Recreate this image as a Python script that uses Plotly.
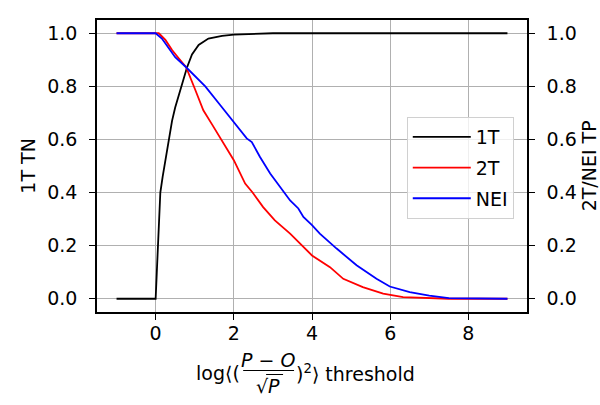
import plotly.graph_objects as go

# ---- data ----
t1_x = [-1, 0, 0.03, 0.06, 0.09, 0.12, 0.18, 0.25, 0.33, 0.42, 0.5, 0.6, 0.7, 0.8, 0.93, 1.1, 1.35, 1.7, 2.0, 2.5, 3.0, 9.0]
t1_y = [0, 0, 0.10, 0.20, 0.30, 0.40, 0.46, 0.52, 0.60, 0.67, 0.72, 0.77, 0.82, 0.87, 0.92, 0.956, 0.98, 0.99, 0.995, 0.998, 1.0, 1.0]

t2_x = [-1, 0.08, 0.25, 0.42, 0.59, 0.78, 1.0, 1.22, 1.45, 1.67, 2.0, 2.29, 2.48, 2.75, 3.05, 3.44, 3.78, 4.0, 4.46, 4.8, 5.3, 5.82, 6.33, 7.0, 7.5, 9.0]
t2_y = [1, 1, 0.975, 0.937, 0.906, 0.872, 0.792, 0.71, 0.655, 0.60, 0.522, 0.434, 0.40, 0.345, 0.295, 0.245, 0.195, 0.163, 0.119, 0.075, 0.044, 0.019, 0.006, 0.002, 0, 0]

nei_x = [-1, 0, 0.16, 0.33, 0.5, 0.78, 1.0, 1.27, 1.65, 2.0, 2.33, 2.46, 2.67, 2.93, 3.28, 3.44, 3.65, 3.78, 4.0, 4.2, 4.63, 5.14, 5.65, 5.99, 6.5, 7.0, 7.5, 9.0]
nei_y = [1, 1, 0.98, 0.943, 0.91, 0.872, 0.84, 0.80, 0.73, 0.667, 0.604, 0.59, 0.534, 0.472, 0.40, 0.37, 0.34, 0.308, 0.277, 0.245, 0.189, 0.126, 0.075, 0.046, 0.025, 0.012, 0.002, 0]

series_names = ["1T", "2T", "NEI"]
series_colors = ["black", "red", "blue"]

x_ticks = [0, 2, 4, 6, 8]
y_ticks = [0.0, 0.2, 0.4, 0.6, 0.8, 1.0]

left_title = "1T TN"
right_title = "2T/NEI TP"

# ---- layout geometry (pixels) ----
W, H = 600, 405
L, R, T, B = 96.5, 527.5, 20, 312
FONT = "DejaVu Sans"
FS = 19


def px(xp):
    return (xp - L) / (R - L)


def py(yp):
    return (B - yp) / (B - T)


fig = go.Figure()
fig.add_trace(go.Scatter(x=t1_x, y=t1_y, mode="lines", name=series_names[0],
                         line=dict(color=series_colors[0], width=1.8), legendgroup="a"))
fig.add_trace(go.Scatter(x=t2_x, y=t2_y, mode="lines", name=series_names[1], yaxis="y2",
                         line=dict(color=series_colors[1], width=1.8), legendgroup="b"))
fig.add_trace(go.Scatter(x=nei_x, y=nei_y, mode="lines", name=series_names[2], yaxis="y2",
                         line=dict(color=series_colors[2], width=1.8), legendgroup="c"))

axis_common = dict(
    showline=True, linecolor="black", linewidth=1.6,
    ticks="outside", ticklen=6, tickwidth=1.3, tickcolor="black",
    tickfont=dict(family=FONT, size=FS, color="black"),
    zeroline=False,
)

fig.update_layout(
    width=W, height=H,
    margin=dict(l=L, r=W - R, t=T, b=H - B, pad=0),
    plot_bgcolor="white", paper_bgcolor="white",
    font=dict(family=FONT, size=FS, color="black"),
    xaxis=dict(range=[-1.5, 9.5], tickvals=x_ticks, mirror=True,
               showgrid=True, gridcolor="#b0b0b0", gridwidth=1.2,
               ticklabelstandoff=-3, **axis_common),
    yaxis=dict(range=[-0.05, 1.05], tickvals=y_ticks, tickformat=".1f", mirror=True,
               showgrid=True, gridcolor="#b0b0b0", gridwidth=1.2,
               ticklabelstandoff=8, **axis_common),
    yaxis2=dict(range=[-0.05, 1.05], tickvals=y_ticks, tickformat=".1f",
                overlaying="y", side="right", showgrid=False,
                ticklabelstandoff=8, **axis_common),
    legend=dict(x=px(407), y=py(117), xanchor="left", yanchor="top",
                bgcolor="rgba(255,255,255,0.8)", bordercolor="#d0d0d0", borderwidth=1,
                font=dict(family=FONT, size=FS, color="black"),
                itemwidth=58, tracegroupgap=3),
    showlegend=True,
)

ann = []
# axis titles
ann.append(dict(text=left_title, x=px(27), y=py(166), xref="paper", yref="paper",
                textangle=-90, showarrow=False, xanchor="center", yanchor="middle",
                font=dict(family=FONT, size=FS, color="black")))
ann.append(dict(text=right_title, x=px(590), y=py(166), xref="paper", yref="paper",
                textangle=-90, showarrow=False, xanchor="center", yanchor="middle",
                font=dict(family=FONT, size=FS, color="black")))
# x title with math fraction
ann.append(dict(text="log⟨(", x=px(242), y=py(373), xref="paper", yref="paper",
                showarrow=False, xanchor="right", yanchor="middle",
                font=dict(family=FONT, size=FS, color="black")))
ann.append(dict(text="<i>P</i> − <i>O</i>", x=px(268), y=py(360), xref="paper", yref="paper",
                showarrow=False, xanchor="center", yanchor="middle",
                font=dict(family=FONT, size=FS, color="black")))
ann.append(dict(text="√<i>P</i>", x=px(268), y=py(386), xref="paper", yref="paper",
                showarrow=False, xanchor="center", yanchor="middle",
                font=dict(family=FONT, size=FS, color="black")))
ann.append(dict(text=")<sup>2</sup>⟩ threshold", x=px(294), y=py(373), xref="paper", yref="paper",
                showarrow=False, xanchor="left", yanchor="middle",
                font=dict(family=FONT, size=FS, color="black")))
fig.update_layout(annotations=ann)

# fraction bar and radical vinculum
fig.add_shape(type="line", xref="paper", yref="paper",
              x0=px(243), x1=px(294), y0=py(370.5), y1=py(370.5),
              line=dict(color="black", width=1.2))
fig.add_shape(type="line", xref="paper", yref="paper",
              x0=px(266), x1=px(283), y0=py(374.5), y1=py(374.5),
              line=dict(color="black", width=1.0))

fig.write_html("out.html")
